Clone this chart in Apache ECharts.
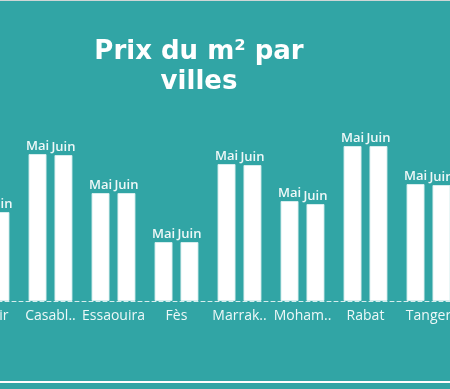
<!DOCTYPE html>
<html>
<head>
<meta charset="utf-8">
<style>
html,body{margin:0;padding:0;background:#31a5a5;overflow:hidden;width:450px;height:389px;position:relative;}
#c{position:absolute;left:-44px;top:0;width:504px;height:389px;}
</style>
<script src="https://cdn.jsdelivr.net/npm/echarts@6/dist/echarts.min.js"></script>
</head>
<body>
<div id="c"></div>
<script>
const categories = ['Agadir', 'Casabl..', 'Essaouira', 'Fès', 'Marrak..', 'Moham..', 'Rabat', 'Tanger'];
const seriesNames = ['Mai', 'Juin'];
const maiValues = [8800, 14700, 10800, 5900, 13700, 10000, 15500, 11700];
const juinValues = [8900, 14600, 10800, 5900, 13600, 9700, 15500, 11600];
const titleLines = ['Prix du m² par', 'villes'];

const OX = 44; // horizontal offset of the chart canvas relative to the page
const chart = echarts.init(document.getElementById('c'));
const labelStyle = {
  show: true, position: 'top', distance: 1,
  formatter: '{a}', color: '#eef8f8', fontSize: 13,
  fontFamily: 'Open Sans', fontWeight: 600
};
const barStyle = { color: '#ffffff', borderColor: 'rgba(220,240,240,0.9)', borderWidth: 1 };
chart.setOption({
  backgroundColor: '#31a5a5',
  animation: false,
  grid: { left: 0, right: 0, top: 101, height: 200, containLabel: false },
  xAxis: {
    type: 'category', data: categories,
    axisLine: { show: true, lineStyle: { color: '#d6eeee', type: [4, 3], width: 1 } },
    axisTick: { show: false },
    axisLabel: { color: '#eef8f8', fontSize: 14, fontFamily: 'Open Sans', margin: 8, interval: 0 }
  },
  yAxis: { type: 'value', min: 0, max: 20000, show: false, splitLine: { show: false } },
  series: [
    { name: seriesNames[0], type: 'bar', data: maiValues, barWidth: 18, barGap: '44%', itemStyle: barStyle, label: labelStyle },
    { name: seriesNames[1], type: 'bar', data: juinValues, barWidth: 18, itemStyle: barStyle, label: labelStyle }
  ],
  graphic: [
    { type: 'rect', shape: { x: 0, y: 0, width: 504, height: 1 }, style: { fill: '#cfd6d6' } },
    { type: 'rect', shape: { x: 0, y: 381, width: 504, height: 2 }, style: { fill: '#ffffff' } },
    { type: 'text', x: 199 + OX, y: 37, style: { text: titleLines.join('\n'), fill: '#ffffff', font: 'bold 26px "DejaVu Sans"', textAlign: 'center', textVerticalAlign: 'top', lineHeight: 30 } }
  ]
});
</script>
</body>
</html>
